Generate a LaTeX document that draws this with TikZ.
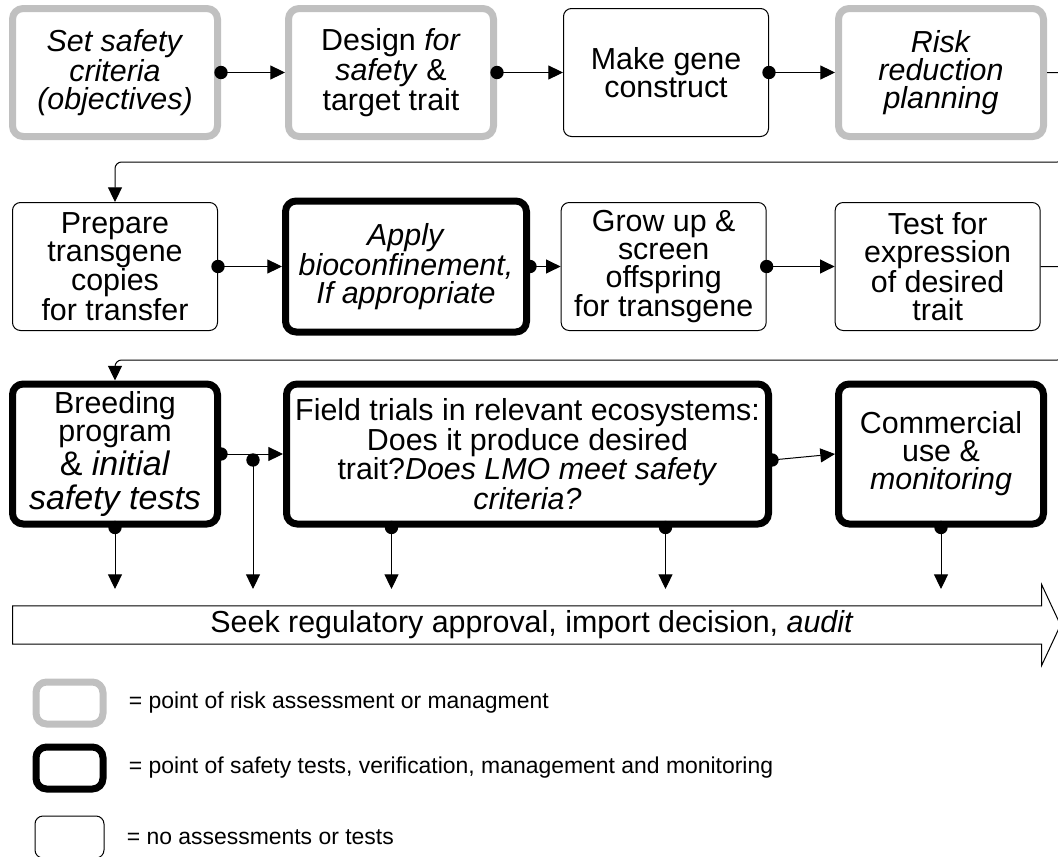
\documentclass[tikz,border=0pt]{standalone}
\usepackage{fontspec}
\setmainfont{Liberation Sans}
\usetikzlibrary{arrows.meta,positioning,shapes.arrows}
\definecolor{riskgray}{RGB}{192,192,192}
\newcommand{\boxfont}{\fontsize{22.8pt}{21pt}\selectfont}
\newcommand{\bigfont}{\fontsize{25.5pt}{24pt}\selectfont}
\newcommand{\legendfont}{\fontsize{17.2pt}{19pt}\selectfont}
\tikzset{
    plainstep/.style={draw, fill=white, line width=0.75pt, rounded corners=6pt, align=center, font=\boxfont, inner sep=1pt, minimum width=153.75pt, minimum height=96pt},
    riskstep/.style={plainstep, draw=riskgray, line width=5.25pt, rounded corners=8pt},
    safestep/.style={plainstep, line width=5.25pt, rounded corners=8pt},
    flowarrow/.style={-{Triangle[length=11pt, width=10.5pt]}, line width=0.75pt},
    flowdot/.style={fill=black},
    legendnote/.style={inner sep=0pt, font=\legendfont}
}

\begin{document}
\begin{tikzpicture}[x=0.75pt, y=-0.75pt, node distance=48pt]
    \useasboundingbox (0,0) rectangle (1058,857);
    % first row
    \node[riskstep] (b1) at (115,72.5) {\textit{Set safety}\\\textit{criteria}\\\textit{(objectives)}};
    \node[riskstep, right=of b1] (b2) {Design \textit{for}\\\textit{safety} \&\\target trait};
    \node[plainstep, right=49.5pt of b2] (b3) {Make gene\\construct};
    \node[riskstep, right=49.5pt of b3] (b4) {\textit{Risk}\\\textit{reduction}\\\textit{planning}};
    % second row
    \node[plainstep] (b5) at (115,266.5) {Prepare\\transgene\\copies\\for transfer};
    \node[safestep, right=of b5, minimum width=180.75pt, minimum height=98.25pt] (b6) {\textit{Apply}\\\textit{bioconfinement,}\\\textit{If appropriate}};
    \node[plainstep, right=23pt of b6] (b7) {Grow up \&\\screen\\offspring\\for transgene};
    \node[plainstep, right=51pt of b7] (b8) {Test for\\expression\\of desired\\trait};
    % third row
    \node[safestep, minimum height=105pt] (b9) at (115,454) {Breeding\\program\\[1.5pt]{\bigfont \& \textit{initial}}\\[4.5pt]{\bigfont\textit{safety tests}}};
    \node[safestep, right=46.5pt of b9, minimum width=361.5pt, minimum height=105pt] (b10) {Field trials in relevant ecosystems:\\Does it produce desired\\trait?\textit{Does LMO meet safety}\\\textit{criteria?}};
    \node[safestep, right=47.25pt of b10, minimum height=105pt] (b11) {Commercial\\use \&\\\textit{monitoring}};
    % approval arrow
    \node[draw, single arrow, single arrow head extend=14.6pt, single arrow tip angle=130, single arrow head indent=0pt,
          minimum height=786pt, minimum width=60.75pt, line width=0.75pt, font=\boxfont, inner sep=2pt, anchor=tail] (seek) at (12,625)
          {Seek regulatory approval, import decision, \textit{audit}};
    % legend
    \node[riskstep, minimum width=50.25pt, minimum height=31.5pt] (leg1) at (69.5,703) {};
    \node[safestep, minimum width=50.25pt, minimum height=31.5pt] (leg2) at (69.5,768) {};
    \node[plainstep, minimum width=51.75pt, minimum height=31.5pt] (leg3) at (69.5,837) {};
    \node[legendnote, right=16.5pt of leg1] (n1) {= point of risk assessment or managment};
    \node[legendnote, right=16.5pt of leg2] (n2) {= point of safety tests, verification, management and monitoring};
    \node[legendnote, right=16.5pt of leg3] (n3) {= no assessments or tests};

    % connectors
    \coordinate (wrapa) at (1064,162);
    \coordinate (wrapb) at (1064,360);
    \coordinate (gate) at (0,589);
    \coordinate (branch) at (253,460);
    \coordinate (b10l) at ([xshift=-102pt]b10.south);
    \coordinate (b10r) at ([xshift=103.5pt]b10.south);
    \coordinate (b10e) at ([yshift=-4.5pt]b10.east);
    \foreach \from/\to in {b1/b2, b2/b3, b3/b4, b5/b6, b6/b7, b7/b8, b9/b10} {
        \fill[flowdot] (\from.east) circle (5pt);
        \draw[flowarrow] (\from.east) -- (\to.west);
    }
    \fill[flowdot] (b10e) circle (5pt);
    \draw[flowarrow] (b10e) -- (b11.west);
    \draw[flowarrow, rounded corners=5pt] (b4.east) -| (wrapa) -| (b5.north);
    \draw[flowarrow, rounded corners=5pt] (b8.east) -| (wrapb) -| (b9.north);
    \foreach \src in {b9.south, branch, b10l, b10r, b11.south} {
        \fill[flowdot] (\src) circle (5pt);
        \draw[flowarrow] (\src) -- (\src |- gate);
    }
\end{tikzpicture}
\end{document}
